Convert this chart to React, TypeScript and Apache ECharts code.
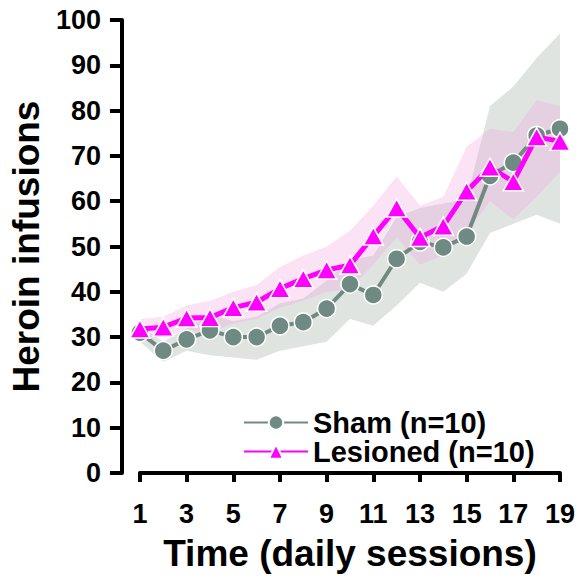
import React, { useEffect, useRef } from "react";
import * as echarts from "echarts";

const sessions = ["1","2","3","4","5","6","7","8","9","10","11","12","13","14","15","16","17","18","19"];
const shamMean = [31, 27, 29.5, 31.5, 30, 30, 32.5, 33.3, 36.3, 41.7, 39.3, 47.3, 51, 49.8, 52.2, 65.6, 68.5, 74.5, 76];
const shamUpper = [32.5, 29, 32, 35, 33.5, 34.5, 37.5, 38.5, 42.5, 47, 48, 56.5, 58.5, 59.5, 60.5, 81, 85.3, 91.6, 97];
const shamLower = [29, 24.5, 27, 26, 25.5, 25, 27, 28, 29, 34, 32.5, 37, 42, 40, 44, 53, 55, 57, 55];
const lesMean = [31.8, 32.2, 34.2, 34.3, 36.5, 37.7, 40.7, 42.9, 44.8, 45.9, 52.3, 58.5, 52, 54.5, 62.2, 67.5, 64.3, 74.2, 73.2];
const lesUpper = [34, 34.5, 37, 38, 40, 41.5, 45.5, 48, 50, 53.5, 59, 65.5, 59, 61, 72, 76, 75.3, 82.3, 81];
const lesLower = [30, 30, 31.5, 31, 33, 34, 36.5, 38, 40, 40.5, 46, 52, 46, 48, 53, 60, 56, 61, 66.5];

const FONT = "'Liberation Sans', Arial, Helvetica, sans-serif";

export default function App() {
  const ref = useRef<HTMLDivElement>(null);
  useEffect(() => {
    if (!ref.current) return;
    const chart = echarts.init(ref.current, null, { renderer: "svg" });
    const range = (u: number[], l: number[]) => u.map((v, i) => +(v - l[i]).toFixed(2));
    chart.setOption({
      animation: false,
      backgroundColor: "#ffffff",
      grid: { left: 135, right: 18, top: 20, bottom: 106 },
      legend: {
        data: ["Sham (n=10)", "Lesioned (n=10)"],
        orient: "vertical",
        left: 243,
        top: 408,
        padding: 0,
        itemWidth: 64,
        itemHeight: 18,
        itemGap: 0,
        lineStyle: { width: 2 },
        textStyle: { fontFamily: FONT, fontWeight: "bold", fontSize: 29, color: "#000" },
      },
      xAxis: {
        type: "category",
        data: sessions,
        boundaryGap: false,
        offset: 14,
        axisLine: { lineStyle: { color: "#000", width: 4, cap: "round" } },
        axisTick: { show: true, length: 9, interval: 1, lineStyle: { color: "#000", width: 4 } },
        axisLabel: { interval: 1, margin: 13, fontFamily: FONT, fontWeight: "bold", fontSize: 27, color: "#000" },
        name: "Time (daily sessions)",
        nameLocation: "middle",
        nameGap: 48,
        nameTextStyle: { fontFamily: FONT, fontWeight: "bold", fontSize: 37, color: "#000" },
        splitLine: { show: false },
      },
      yAxis: {
        type: "value",
        min: 0,
        max: 100,
        interval: 10,
        offset: 18,
        axisLine: { show: true, lineStyle: { color: "#000", width: 4, cap: "round" } },
        axisTick: { show: true, length: 12, lineStyle: { color: "#000", width: 4 } },
        axisLabel: { margin: 21, fontFamily: FONT, fontWeight: "bold", fontSize: 27, color: "#000" },
        splitLine: { show: false },
        name: "Heroin infusions",
        nameLocation: "middle",
        nameGap: 66,
        nameTextStyle: { fontFamily: FONT, fontWeight: "bold", fontSize: 37, color: "#000" },
      },
      series: [
        {
          name: "shamLo", type: "line", stack: "sham", data: shamLower, symbol: "none",
          lineStyle: { opacity: 0 }, silent: true, z: 1,
        },
        {
          name: "shamBand", type: "line", stack: "sham", data: range(shamUpper, shamLower), symbol: "none",
          lineStyle: { opacity: 0 }, areaStyle: { color: "#dfe4e1", opacity: 1 }, silent: true, z: 1,
        },
        {
          name: "lesLo", type: "line", stack: "les", data: lesLower, symbol: "none",
          lineStyle: { opacity: 0 }, silent: true, z: 2,
        },
        {
          name: "lesBand", type: "line", stack: "les", data: range(lesUpper, lesLower), symbol: "none",
          lineStyle: { opacity: 0 }, areaStyle: { color: "rgb(241,162,222)", opacity: 0.3 }, silent: true, z: 2,
        },
        {
          name: "Sham (n=10)", type: "line", data: shamMean, symbol: "circle", symbolSize: 18, showAllSymbol: true,
          lineStyle: { color: "#708a82", width: 4 },
          itemStyle: { color: "#6e8a82", borderColor: "#ffffff", borderWidth: 1.5 },
          z: 3,
        },
        {
          name: "Lesioned (n=10)", type: "line", data: lesMean, symbol: "triangle", symbolSize: [20, 18], showAllSymbol: true,
          lineStyle: { color: "#ff00ff", width: 5 },
          itemStyle: { color: "#ff00ff", borderColor: "#ffffff", borderWidth: 1.5 },
          z: 4,
        },
      ],
    });
    return () => chart.dispose();
  }, []);
  return <div ref={ref} style={{ position: "fixed", left: 0, top: 0, width: 578, height: 579 }} />;
}
